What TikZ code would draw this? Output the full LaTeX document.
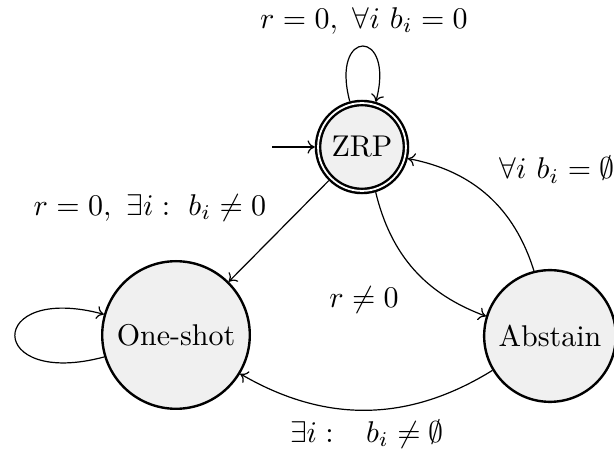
\documentclass[tikz,border=0pt]{standalone}
\usepackage{amssymb}
\usetikzlibrary{arrows.meta}
\begin{document}
\begin{tikzpicture}[x=0.33333pt,y=-0.33333pt,
  state/.style={circle,draw,thick,fill=black!6,inner sep=0pt},
  accept/.style={double,double distance=0.6pt,outer sep=1.1pt},
  trans/.style={-{To[length=2.4pt,width=4.4pt]}},
  lbl/.style={inner sep=0pt}]
\useasboundingbox (0,0) rectangle (614,457);
\node[state,accept,minimum size=29.3pt] (z) at (362,147) {ZRP};
\node[state,minimum size=49.2pt] (o) at (176,335) {One-shot};
\node[state,minimum size=43.9pt] (a) at (550,336) {Abstain};
\coordinate (init) at (272,147);
\draw[trans] (init) -- (z);
\draw[trans] (z.105) .. controls +(105:25.5pt) and +(75:25.5pt) .. (z.73);
\draw[trans] (o.197) .. controls +(195:41pt) and +(165:41pt) .. (o.164);
\draw[trans] (z) -- (o);
\draw[trans] (z) to[bend right=28] (a);
\draw[trans] (a) to[bend right=31] (z);
\draw[trans] (a) to[bend left=31] (o);
\node[lbl] (l1) at (364,21) {$r=0,\ \forall i\ b_i=0$};
\node[lbl] (l2) at (150,208) {$r=0,\ \exists i:\ b_i\neq 0$};
\node[lbl] (l3) at (364,300) {$r\neq 0$};
\node[lbl] (l4) at (557,170) {$\forall i\ b_i=\emptyset$};
\node[lbl] (l5) at (367,434) {$\exists i:\hspace{8pt} b_i\neq\emptyset$};
\end{tikzpicture}
\end{document}
